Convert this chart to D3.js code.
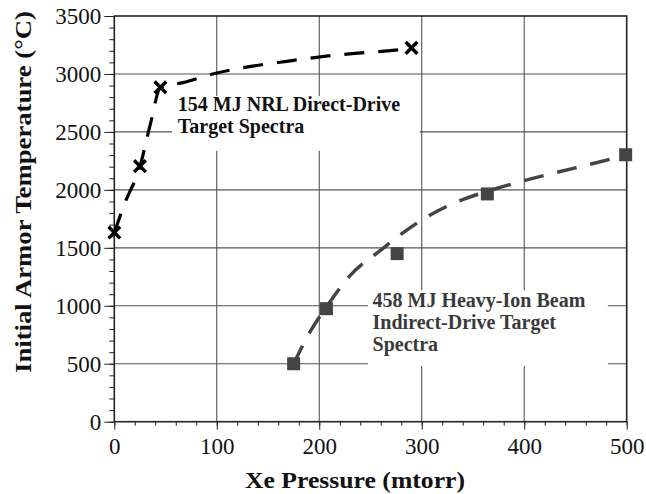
<!DOCTYPE html>
<html><head><meta charset="utf-8">
<script src="https://cdn.jsdelivr.net/npm/d3@7"></script>
<style>body{margin:0;background:#fff}svg{display:block}</style>
</head><body>
<svg id="c" width="646" height="494"></svg>
<script>
// Data
const nrlPressure = [0, 25, 45, 290];
const nrlTemp = [1632, 2205, 2885, 3225];
const nrlFitPressure = [0, 10, 25, 35, 45, 67, 100, 135, 170, 203, 238, 274, 290];
const nrlFitTemp = [1630, 1880, 2200, 2560, 2880, 2925, 3008, 3068, 3111, 3150, 3180, 3205, 3222];
const hibPressure = [175, 207, 276, 364, 499];
const hibTemp = [500, 975, 1450, 1965, 2303];
const hibFitPressure = [175, 190, 207, 230, 260, 300, 330, 365, 400, 450, 500];
const hibFitTemp = [500, 760, 990, 1260, 1480, 1740, 1880, 1990, 2080, 2190, 2300];
const xTicks = [0, 100, 200, 300, 400, 500];
const yTicks = [0, 500, 1000, 1500, 2000, 2500, 3000, 3500];
const label1 = ["154 MJ NRL Direct-Drive", "Target Spectra"];
const label2 = ["458 MJ Heavy-Ion Beam", "Indirect-Drive Target", "Spectra"];
const xTitle = "Xe Pressure (mtorr)";
const yTitle = "Initial Armor Temperature (°C)";

const svg = d3.select("#c");
const L = 114.3, R = 626.7, T = 16, B = 421.7;
const x = d3.scaleLinear().domain([0, 500]).range([L, R]);
const y = d3.scaleLinear().domain([0, 3500]).range([B, T]);
const serif = "'Liberation Serif','Times New Roman',serif";

// grid
const g = svg.append("g");
g.selectAll(".vg").data(xTicks.slice(1, -1)).join("line")
  .attr("x1", d => x(d)).attr("x2", d => x(d)).attr("y1", T).attr("y2", B)
  .attr("stroke", "#444").attr("stroke-width", 1);
g.selectAll(".hg").data(yTicks.slice(1, -1)).join("line")
  .attr("x1", L).attr("x2", R).attr("y1", d => y(d)).attr("y2", d => y(d))
  .attr("stroke", "#555").attr("stroke-width", 1.1);

// label background boxes
svg.append("rect").attr("x", x(56.3)).attr("y", y(2810))
  .attr("width", x(298) - x(56.3)).attr("height", y(2337) - y(2810)).attr("fill", "#fff");
svg.append("rect").attr("x", x(247.5)).attr("y", y(1133))
  .attr("width", x(481.6) - x(247.5)).attr("height", y(480) - y(1133)).attr("fill", "#fff");

// axes
const xAxis = d3.axisBottom(x).tickValues(xTicks).tickSize(8).tickPadding(8).tickFormat(d3.format("d"));
const xMinor = d3.axisBottom(x).tickValues(d3.range(0, 501, 20)).tickSize(4).tickFormat("");
const yAxis = d3.axisLeft(y).tickValues(yTicks).tickSize(10).tickPadding(3).tickFormat(d3.format("d"));
const yMinor = d3.axisLeft(y).tickValues(d3.range(0, 3501, 100)).tickSize(5).tickFormat("");

function styleAxis(sel) {
  sel.select(".domain").remove();
  sel.selectAll("line").attr("stroke", "#222").attr("stroke-width", 1);
  sel.selectAll("text").attr("font-family", serif).attr("font-size", 23).attr("fill", "#111");
}
svg.append("g").attr("transform", `translate(0,${B})`).call(xMinor).call(styleAxis);
svg.append("g").attr("transform", `translate(0,${B})`).call(xAxis).call(styleAxis);
svg.append("g").attr("transform", `translate(${L},0)`).call(yMinor).call(styleAxis);
svg.append("g").attr("transform", `translate(${L},0)`).call(yAxis).call(styleAxis);

// frame
svg.append("rect").attr("x", L).attr("y", T).attr("width", R - L).attr("height", B - T)
  .attr("fill", "none").attr("stroke", "#222").attr("stroke-width", 1.6);

// curves
const line = d3.line().x(d => x(d[0])).y(d => y(d[1])).curve(d3.curveMonotoneX);
svg.append("path").datum(nrlFitPressure.map((p, i) => [p, nrlFitTemp[i]]))
  .attr("d", line).attr("fill", "none").attr("stroke", "#000")
  .attr("stroke-width", 3.2).attr("stroke-dasharray", "20,14");
svg.append("path").datum(hibFitPressure.map((p, i) => [p, hibFitTemp[i]]))
  .attr("d", line).attr("fill", "none").attr("stroke", "#444")
  .attr("stroke-width", 3.5).attr("stroke-dasharray", "20,14");

// markers
const xm = d3.symbol().type(d3.symbolX).size(90);
svg.selectAll(".xm").data(nrlPressure.map((p, i) => [p, nrlTemp[i]])).join("path")
  .attr("d", xm).attr("transform", d => `translate(${x(d[0])},${y(d[1])})`)
  .attr("fill", "none").attr("stroke", "#000").attr("stroke-width", 3.4);
svg.selectAll(".sq").data(hibPressure.map((p, i) => [p, hibTemp[i]])).join("rect")
  .attr("x", d => x(d[0]) - 6.5).attr("y", d => y(d[1]) - 6.5)
  .attr("width", 13).attr("height", 13).attr("fill", "#444");

// annotations
const t1 = svg.append("text").attr("font-family", serif).attr("font-weight", "bold")
  .attr("font-size", 20).attr("fill", "#111");
label1.forEach((s, i) => t1.append("tspan").attr("x", x(62)).attr("y", y(2680) + i * 22).text(s));
const t2 = svg.append("text").attr("font-family", serif).attr("font-weight", "bold")
  .attr("font-size", 20).attr("fill", "#3a3a3a");
label2.forEach((s, i) => t2.append("tspan").attr("x", x(252)).attr("y", y(990) + i * 22).text(s));

// titles
svg.append("text").attr("x", 355).attr("y", 488).attr("text-anchor", "middle")
  .attr("font-family", serif).attr("font-weight", "bold").attr("font-size", 24).attr("fill", "#111")
  .attr("textLength", 220).attr("lengthAdjust", "spacingAndGlyphs")
  .text(xTitle);
svg.append("text").attr("transform", "translate(31,192) rotate(-90)").attr("text-anchor", "middle")
  .attr("font-family", serif).attr("font-weight", "bold").attr("font-size", 24).attr("fill", "#111")
  .attr("textLength", 362).attr("lengthAdjust", "spacingAndGlyphs")
  .text(yTitle);
</script>
</body></html>
